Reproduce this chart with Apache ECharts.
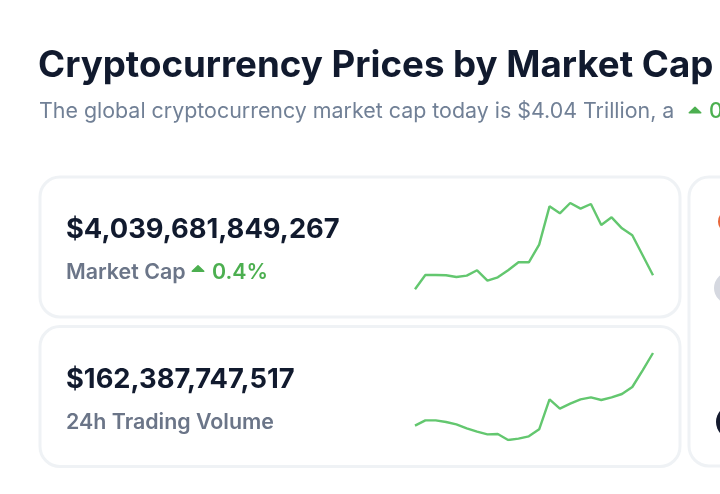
<!DOCTYPE html>
<html><head><meta charset="utf-8">
<style>html,body{margin:0;padding:0;background:#fff;overflow:hidden}#c{width:720px;height:494px}</style>
<script src="https://cdn.jsdelivr.net/npm/echarts@6/dist/echarts.min.js"></script>
</head><body><div id="c"></div>
<script>
const days = ['1','2','3','4','5','6','7','8','9','10','11','12','13','14','15','16','17','18','19','20','21','22','23','24'];
// Billions of USD, read from the sparklines
const marketCap = [3997,4040,4040,4039,4034,4038,4054,4023,4033,4054,4078,4078,4131,4246,4225,4256,4239,4253,4190,4213,4180,4159,4099,4039];
const tradingVolume = [118.6,121.8,121.8,120.8,119.4,117,115,113.4,113.6,110,110.8,112.2,116.4,134.4,128.8,131.8,134.4,135.6,134,135.6,137.6,141.8,151.8,162.2];
const titleText = 'Cryptocurrency Prices by Market Cap';
const subtitleText = 'The global cryptocurrency market cap today is $4.04 Trillion, a';
const capValue = '$4,039,681,849,267';
const capLabel = 'Market Cap';
const changeText = '0.4%';
const volumeValue = '$162,387,747,517';
const volumeLabel = '24h Trading Volume';

const F = 'Inter';
const DARK = '#111a2e', GREY = '#6b7588', SUB = '#718096', GREEN = '#4caf50', LINE = '#63c76f', BORDER = '#eff2f5';
const text = (x, y, t, size, weight, fill) => ({type:'text', x, y, silent:true, style:{text:t, x:0, y:0, fill, font:`${weight} ${size}px ${F}`, verticalAlign:'middle'}});
const card = (x, y, w, h) => ({type:'rect', shape:{x, y, width:w, height:h, r:20}, silent:true, z:-1, style:{fill:'#fff', stroke:BORDER, lineWidth:3}});
const tri = (cx, cy, w, h) => ({type:'polygon', shape:{points:[[cx-w/2,cy+h/2],[cx,cy-h/2],[cx+w/2,cy+h/2]]}, silent:true, style:{fill:GREEN, stroke:GREEN, lineWidth:1.5, lineJoin:'round'}});
const spark = (i, data) => ({
  type:'line', xAxisIndex:i, yAxisIndex:i, data, showSymbol:false, smooth:false, silent:true,
  lineStyle:{color:LINE, width:2.4}, animation:false
});
const axisX = i => ({type:'category', gridIndex:i, data:days, boundaryGap:false, show:false});
const axisY = (i, min, max) => ({type:'value', gridIndex:i, min, max, show:false});

const chart = echarts.init(document.getElementById('c'), null, {renderer:'canvas'});
chart.setOption({
  animation:false,
  backgroundColor:'#fff',
  grid:[
    {left:415, width:238, top:203, height:86.3},
    {left:415, width:238, top:353, height:87}
  ],
  xAxis:[axisX(0), axisX(1)],
  yAxis:[axisY(0, Math.min(...marketCap), Math.max(...marketCap)), axisY(1, Math.min(...tradingVolume), Math.max(...tradingVolume))],
  series:[spark(0, marketCap), spark(1, tradingVolume)],
  graphic:{elements:[
    card(40, 177, 640, 140),
    card(40, 326.5, 640, 140),
    card(689, 177, 100, 289),
    text(38, 66, titleText, 36.7, 700, DARK),
    text(39, 112, subtitleText, 21.4, 400, SUB),
    tri(695, 110, 11.5, 5.5),
    text(709, 112, changeText, 21.4, 500, GREEN),
    text(66, 230, capValue, 27.3, 700, DARK),
    text(66, 273, capLabel, 21.4, 600, GREY),
    tri(198, 268.5, 11.5, 5.5),
    text(212, 273, changeText, 21.4, 600, GREEN),
    text(66, 380, volumeValue, 27.3, 700, DARK),
    text(66, 423, volumeLabel, 21.4, 600, GREY),
    {type:'circle', shape:{cx:729.5, cy:221.5, r:11.5}, silent:true, style:{fill:'#e8663a'}},
    {type:'circle', shape:{cx:730, cy:288, r:16}, silent:true, style:{fill:'#d5d8e0'}},
    {type:'circle', shape:{cx:733, cy:422, r:17}, silent:true, style:{fill:'#141a2e'}}
  ]}
});
</script></body></html>
